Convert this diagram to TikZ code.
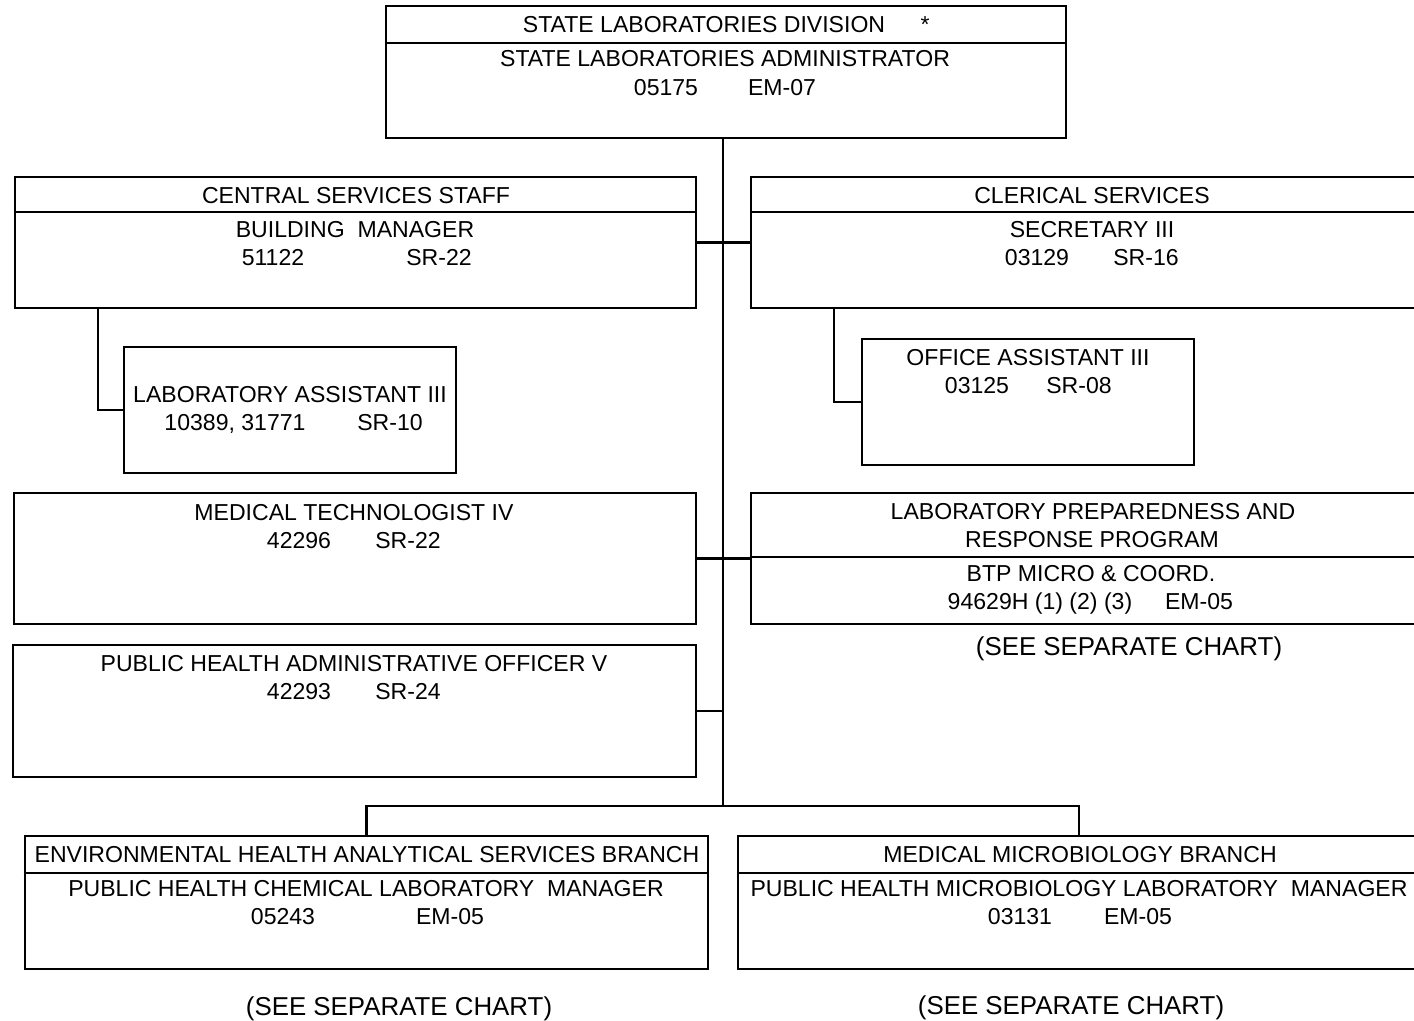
\documentclass[tikz,border=0pt]{standalone}
\usepackage{fontspec}
\setmainfont{Liberation Sans}
\usetikzlibrary{positioning,fit}

\tikzset{
  unitbox/.style={draw, line width=2pt, inner sep=0pt, fit={#1}},
  lbl/.style={inner sep=0pt, text height=0.72em, text depth=0pt, yshift=-0.07cm},
  seelbl/.style={lbl, font=\fontsize{18.4}{22}\selectfont},
  wire/.style={line width=1.7pt},
}

\begin{document}
\begin{tikzpicture}[x=0.025cm, y=-0.025cm, font=\fontsize{16.4}{20}\selectfont]
\useasboundingbox (0,0) rectangle (1414,1020);
\clip (0,0) rectangle (1414,1020);
\begin{scope}%[every node/.style={unitbox}]
    \node[unitbox={(386,6) (1066,138)}] (div) {};
    \node[unitbox={(15,177) (696,308)}] (css) {};
    \node[unitbox={(751,177) (1420,308)}] (cler) {};
    \node[unitbox={(124,347) (456,473)}] (labasst) {};
    \node[unitbox={(862,339) (1194,465)}] (offasst) {};
    \node[unitbox={(14,493) (696,624)}] (medtech) {};
    \node[unitbox={(751,493) (1420,624)}] (prep) {};
    \node[unitbox={(13,645) (696,777)}] (phao) {};
    \node[unitbox={(25,836) (708,969)}] (env) {};
    \node[unitbox={(738,836) (1420,969)}] (micro) {};
\end{scope}
\draw[wire] (div.west |- 0,43) -- (div.east |- 0,43);
\draw[wire] (css.west |- 0,212) -- (css.east |- 0,212) (cler.west |- 0,212) -- (cler.east |- 0,212);
\draw[wire] (prep.west |- 0,557) -- (prep.east |- 0,557);
\draw[wire] (env.west |- 0,873) -- (env.east |- 0,873) (micro.west |- 0,873) -- (micro.east |- 0,873);

\begin{scope}[every node/.style={lbl}]
    \node (divhead) at (704,25) {STATE LABORATORIES DIVISION};
    \node (star) at (925,25) {*};
    \node (divtitle) at (725,59) {STATE LABORATORIES ADMINISTRATOR};
    \node (divno) at (666,88) {05175};
    \node (divgr) at (782,88) {EM-07};

    \node (csshead) at (356,196) {CENTRAL SERVICES STAFF};
    \node (csstitle) at (355,230) {BUILDING\ \ MANAGER};
    \node (cssno) at (273,258) {51122};
    \node (cssgr) at (439,258) {SR-22};

    \node (clerhead) at (1092,196) {CLERICAL SERVICES};
    \node (clertitle) at (1092,230) {SECRETARY III};
    \node (clerno) at (1037,258) {03129};
    \node (clergr) at (1146,258) {SR-16};

    \node (labtitle) at (290,395) {LABORATORY ASSISTANT III};
    \node (labno) at (235,423) {10389, 31771};
    \node (labgr) at (390,423) {SR-10};

    \node (offtitle) at (1028,358) {OFFICE ASSISTANT III};
    \node (offno) at (977,386) {03125};
    \node (offgr) at (1079,386) {SR-08};

    \node (medtitle) at (354,513) {MEDICAL TECHNOLOGIST IV};
    \node (medno) at (299,541) {42296};
    \node (medgr) at (408,541) {SR-22};

    \node (prephead) at (1093,512) {LABORATORY PREPAREDNESS AND};
    \node (prephead2) at (1092,540) {RESPONSE PROGRAM};
    \node (preptitle) at (1091,574) {BTP MICRO \& COORD.};
    \node (prepno) at (1040,602) {94629H (1) (2) (3)};
    \node (prepgr) at (1199,602) {EM-05};
    \node[seelbl] (prepsee) at (1129,645) {(SEE SEPARATE CHART)};

    \node (phaotitle) at (354,664) {PUBLIC HEALTH ADMINISTRATIVE OFFICER V};
    \node (phaono) at (299,692) {42293};
    \node (phaogr) at (408,692) {SR-24};

    \node (envhead) at (367,855) {ENVIRONMENTAL HEALTH ANALYTICAL SERVICES BRANCH};
    \node (envtitle) at (366,889) {PUBLIC HEALTH CHEMICAL LABORATORY\ \ MANAGER};
    \node (envno) at (283,917) {05243};
    \node (envgr) at (450,917) {EM-05};
    \node[seelbl] (envsee) at (399,1005) {(SEE SEPARATE CHART)};

    \node (microhead) at (1080,855) {MEDICAL MICROBIOLOGY BRANCH};
    \node (microtitle) at (1079,889) {PUBLIC HEALTH MICROBIOLOGY LABORATORY\ \ MANAGER};
    \node (microno) at (1020,917) {03131};
    \node (microgr) at (1138,917) {EM-05};
    \node[seelbl] (microsee) at (1071,1004) {(SEE SEPARATE CHART)};
\end{scope}

\coordinate (bus) at (723,806);
\coordinate (labtap) at (98,308);
\coordinate (offtap) at (834,308);
\draw[wire] (div.south -| bus) -- (bus);
\draw[wire] (css.east) -- (cler.west) (medtech.east) -- (prep.west);
\draw[wire] (phao.east) -- (phao.east -| bus);
\draw[wire] (labtap) |- (labasst.west) (offtap) |- (offasst.west);
\draw[wire] (env.north) |- (bus) -| (micro.north);
\end{tikzpicture}
\end{document}
